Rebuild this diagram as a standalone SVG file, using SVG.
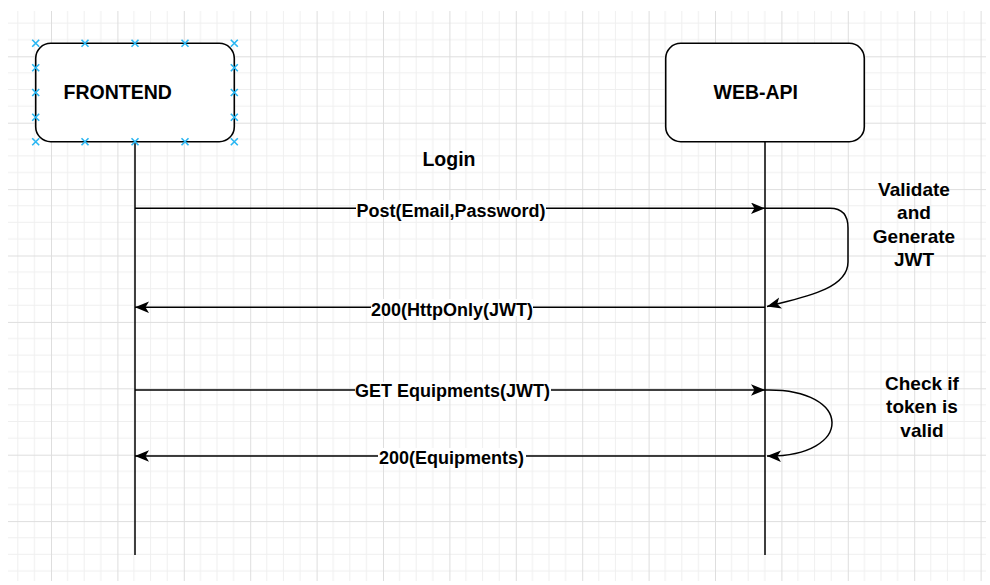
<svg xmlns="http://www.w3.org/2000/svg" width="990" height="585" viewBox="0 0 990 585">
  <defs>
    <pattern id="grid" patternUnits="userSpaceOnUse" x="51" y="56.3" width="66.4" height="66.4">
      <path d="M16.6,0V66.4M33.2,0V66.4M49.8,0V66.4M0,16.6H66.4M0,33.2H66.4M0,49.8H66.4" stroke="#efefef" stroke-width="1" fill="none"/>
      <path d="M0.5,0V66.4M0,0.5H66.4" stroke="#dedede" stroke-width="1" fill="none"/>
    </pattern>
    <marker id="arrow" markerUnits="userSpaceOnUse" markerWidth="16" markerHeight="14" refX="14" refY="5.75" orient="auto">
      <path d="M0,0 L14,5.75 L0,11.5 L3.5,5.75 Z" fill="#000"/>
    </marker>
    <symbol id="pin" overflow="visible">
      <path d="M-3.5,-3.5L3.5,3.5M-3.5,3.5L3.5,-3.5" stroke="#29b6f2" stroke-width="1.6"/>
    </symbol>
  </defs>
  <style>
    .box { fill: #fff; stroke: #000; stroke-width: 1.6; }
    .life { stroke: #000; stroke-width: 1.5; fill: none; }
    .msg { stroke: #000; stroke-width: 1.5; fill: none; marker-end: url(#arrow); }
    .title { font-family: "Liberation Sans", Arial, sans-serif; font-weight: bold; font-size: 19.5px; fill: #000; }
    .lbl { font-family: "Liberation Sans", Arial, sans-serif; font-weight: bold; font-size: 18px; fill: #000; text-anchor: middle; }
    .note { font-family: "Liberation Sans", Arial, sans-serif; font-weight: bold; font-size: 19px; fill: #000; text-anchor: middle; }
  </style>

  <!-- background grid -->
  <rect x="0" y="0" width="990" height="585" fill="#fff"/>
  <rect x="8" y="11" width="978" height="570" fill="url(#grid)"/>

  <!-- lifelines -->
  <g id="lifelines">
    <line class="life" x1="135" y1="142" x2="135" y2="555"/>
    <line class="life" x1="765" y1="142" x2="765" y2="555"/>
  </g>

  <!-- participants -->
  <g id="frontend">
    <rect class="box" x="35.7" y="43.3" width="198.6" height="98.4" rx="15" ry="15"/>
    <text class="title" x="63.5" y="99">FRONTEND</text>
    <g id="frontend-pins">
      <use href="#pin" x="35.7" y="43.3"/><use href="#pin" x="85" y="43.3"/><use href="#pin" x="135" y="43.3"/><use href="#pin" x="185" y="43.3"/><use href="#pin" x="234.3" y="43.3"/>
      <use href="#pin" x="35.7" y="141.7"/><use href="#pin" x="85" y="141.7"/><use href="#pin" x="135" y="141.7"/><use href="#pin" x="185" y="141.7"/><use href="#pin" x="234.3" y="141.7"/>
      <use href="#pin" x="35.7" y="67.7"/><use href="#pin" x="35.7" y="92.5"/><use href="#pin" x="35.7" y="117.3"/>
      <use href="#pin" x="234.3" y="67.7"/><use href="#pin" x="234.3" y="92.5"/><use href="#pin" x="234.3" y="117.3"/>
    </g>
  </g>

  <g id="web-api">
    <rect class="box" x="665.7" y="43.3" width="198.6" height="98.4" rx="15" ry="15"/>
    <text class="title" x="713.5" y="99">WEB-API</text>
  </g>

  <!-- messages -->
  <g id="connectors">
    <line class="msg" x1="135" y1="208.3" x2="765" y2="208.3"/>
    <path class="msg" d="M765,208.3 L830,208.3 Q848,208.3 848,228 L848,262 C848,290 800,298 767,306.5"/>
    <line class="msg" x1="765" y1="307.3" x2="135" y2="307.3"/>
    <line class="msg" x1="135" y1="390" x2="765" y2="390"/>
    <path class="msg" d="M765,390 C854,388 854,457 767,456"/>
    <line class="msg" x1="765" y1="456" x2="135" y2="456"/>
  </g>

  <!-- message labels -->
  <g id="labels">
    <text class="title" x="449" y="165.5" text-anchor="middle">Login</text>
    <rect x="356" y="200" width="190" height="17" fill="#fff"/>
    <text class="lbl" x="451" y="216.5">Post(Email,Password)</text>
    <rect x="371" y="299" width="162" height="17" fill="#fff"/>
    <text class="lbl" x="452" y="315.8">200(HttpOnly(JWT)</text>
    <rect x="355" y="382" width="196" height="17" fill="#fff"/>
    <text class="lbl" x="452.5" y="396.7">GET Equipments(JWT)</text>
    <rect x="378" y="448" width="148" height="17" fill="#fff"/>
    <text class="lbl" x="451.5" y="464">200(Equipments)</text>
  </g>

  <!-- notes -->
  <g id="note-validate">
    <text class="note" x="914" y="196">Validate</text>
    <text class="note" x="914" y="219.3">and</text>
    <text class="note" x="914" y="242.7">Generate</text>
    <text class="note" x="914" y="266">JWT</text>
  </g>
  <g id="note-check">
    <text class="note" x="922" y="390">Check if</text>
    <text class="note" x="922" y="413.3">token is</text>
    <text class="note" x="922" y="436.6">valid</text>
  </g>
</svg>
